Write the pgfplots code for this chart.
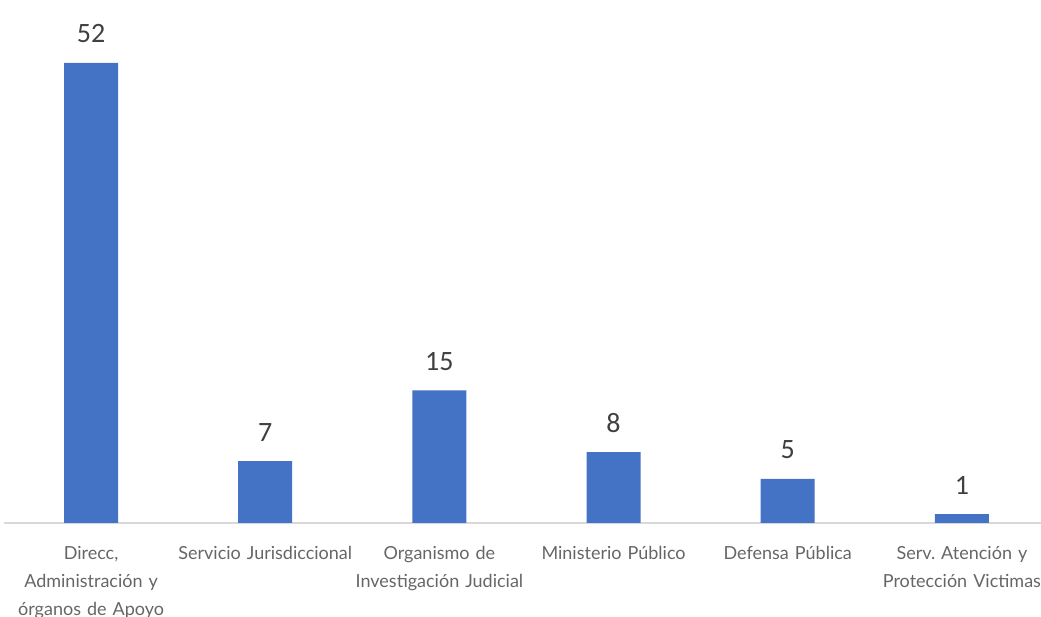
\documentclass[border=0pt]{standalone}
\usepackage{pgfplots}
\pgfplotsset{compat=1.18}
\usepackage{fontspec}
\setmainfont{Lato}
\newfontfamily\calib{Carlito}
\frenchspacing
\definecolor{barblue}{HTML}{4472C4}
\definecolor{axgray}{HTML}{D9D9D9}
\definecolor{lblgray}{HTML}{666666}
\definecolor{numgray}{HTML}{404040}
\begin{document}
\begin{tikzpicture}
\useasboundingbox (0,0) rectangle (1041pt,617pt);
\clip (0,0) rectangle (1041pt,617pt);
\begin{axis}[
  at={(4pt,94pt)}, anchor=south west,
  scale only axis, width=1045pt, height=530.8pt,
  xmin=-0.5, xmax=5.5, ymin=0, ymax=60,
  axis y line=none,
  axis x line*=bottom,
  x axis line style={draw=axgray, line width=1.5pt, -},
  xtick=data,
  xticklabels={{Direcc,\\Administración y\\órganos de Apoyo},{Servicio Jurisdiccional},{Organismo de\\Investigación Judicial},{Ministerio Público},{Defensa Pública},{Serv.\ Atención y\\Protección Victimas}},
  xticklabel style={text width=220pt, align=center, anchor=north, font=\fontsize{18}{28}\selectfont, text=lblgray, yshift=-20pt},
  major tick length=0pt,
  ybar, bar width=54pt,
  nodes near coords,
  nodes near coords style={font=\calib\fontsize{28}{30}\selectfont, text=numgray, anchor=base, yshift=20pt, /pgf/number format/assume math mode=true},
]
\addplot[fill=barblue, draw=none] coordinates {(0,52) (1,7) (2,15) (3,8) (4,5) (5,1)};
\end{axis}
\end{tikzpicture}
\end{document}
